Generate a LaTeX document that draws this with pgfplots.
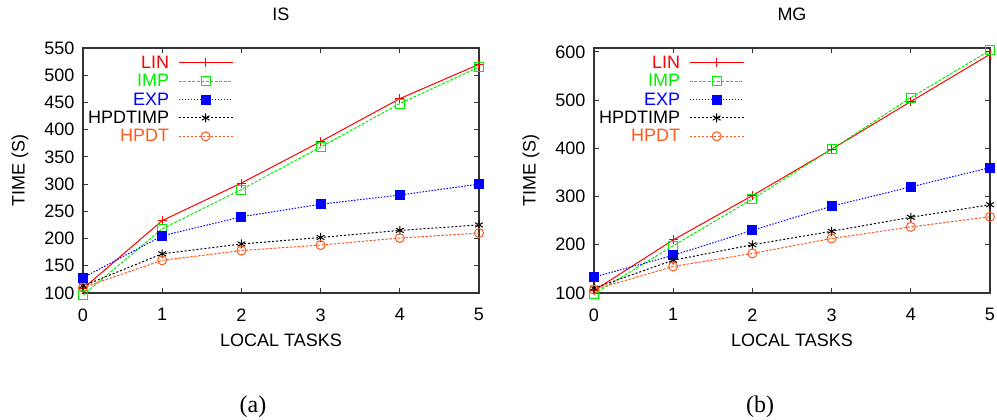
\documentclass[border=0pt]{standalone}
\usepackage{pgfplots}
\pgfplotsset{compat=1.18}
\usepackage{fontspec}
\setmainfont{Liberation Sans}
\newfontfamily\capfont{Liberation Serif}
\definecolor{gpred}{RGB}{255,0,0}
\definecolor{gpgreen}{RGB}{0,240,0}
\definecolor{gpblue}{RGB}{0,0,255}
\definecolor{gporange}{RGB}{255,90,30}
\newcommand{\fs}{\fontsize{18}{18}\selectfont}
% legend image: line of 54pt with one mark in its middle
\newcommand{\gpleg}[3]{\draw[#1, line width=1pt, #2] (0pt,0pt) -- (54pt,0pt);
  \draw[#1, line width=1pt, solid] plot[#3, mark size=4.5pt] coordinates {(27pt,0pt)};}
\pgfplotsset{
  gp/.style={
    scale only axis, width=396pt, height=245pt,
    xmin=0, xmax=5, xtick={0,...,5},
    tick align=inside, major tick length=5pt,
    axis line style={line width=1.4pt, black!80},
    every tick/.style={black!80, line width=1pt},
    tick label style={font=\fs},
    xticklabel style={yshift=-12pt},
    yticklabel style={xshift=-5pt},
    label style={font=\fs},
    title style={font=\fs, at={(axis description cs:0.5,1.114)}, anchor=center},
    xlabel style={at={(axis description cs:0.5,-0.192)}, anchor=center},
    ylabel style={at={(axis description cs:-0.159,0.5)}, anchor=center},
    xlabel={LOCAL TASKS}, ylabel={TIME (S)},
    /pgf/number format/assume math mode=true,
    clip=false,
    legend plot pos=right, legend cell align=right,
    legend style={draw=none, fill=none, font=\fs,
      at={(axis description cs:0.0,0.985)}, anchor=north west,
      row sep=0.5pt, column sep=7pt},
  },
  sLIN/.style={gpred, line width=1pt, solid, mark=+, mark size=4.5pt, mark options={solid},
    legend image code/.code={\gpleg{gpred}{solid}{mark=+}}},
  sIMP/.style={gpgreen, line width=1pt, dash pattern=on 3pt off 1.5pt, mark=square, mark size=4.5pt, mark options={solid},
    legend image code/.code={\gpleg{gpgreen}{dash pattern=on 3pt off 1.5pt}{mark=square}}},
  sEXP/.style={gpblue, line width=1pt, dash pattern=on 1.5pt off 1.5pt, mark=square*, mark size=4.5pt, mark options={solid},
    legend image code/.code={\gpleg{gpblue}{dash pattern=on 1.5pt off 1.5pt}{mark=square*}}},
  sHT/.style={black, line width=1pt, dash pattern=on 2pt off 2pt, mark=asterisk, mark size=4.5pt, mark options={solid},
    legend image code/.code={\gpleg{black}{dash pattern=on 2pt off 2pt}{mark=asterisk}}},
  sHP/.style={gporange, line width=1pt, dash pattern=on 2.5pt off 1.5pt, mark=o, mark size=4.5pt, mark options={solid},
    legend image code/.code={\gpleg{gporange}{dash pattern=on 2.5pt off 1.5pt}{mark=o}}},
}
\begin{document}
\begin{tikzpicture}
\useasboundingbox (0,0) rectangle (997pt,420pt);
\begin{axis}[gp, at={(83pt,127pt)}, anchor=south west, title={IS},
  ymin=100, ymax=550, ytick={100,150,...,550}]
\addplot[sLIN] coordinates {(0,108) (1,233) (2,302) (3,378) (4,457) (5,520)};
\addlegendentry{\textcolor{gpred}{LIN}}
\addplot[sIMP] coordinates {(0,96) (1,218) (2,290) (3,368) (4,448) (5,515)};
\addlegendentry{\textcolor{gpgreen}{IMP}}
\addplot[sEXP] coordinates {(0,128) (1,205) (2,240) (3,263) (4,280) (5,300)};
\addlegendentry{\textcolor{gpblue}{EXP}}
\addplot[sHT] coordinates {(0,113) (1,172) (2,190) (3,202) (4,215) (5,225)};
\addlegendentry{\textcolor{black}{HPDTIMP}}
\addplot[sHP] coordinates {(0,110) (1,160) (2,178) (3,188) (4,201) (5,210)};
\addlegendentry{\textcolor{gporange}{HPDT}}
\end{axis}
\begin{axis}[gp, at={(594pt,127pt)}, anchor=south west, title={MG},
  ymin=100, ymax=608, ytick={100,200,...,600}]
\addplot[sLIN] coordinates {(0,105) (1,210) (2,302) (3,398) (4,497) (5,595)};
\addlegendentry{\textcolor{gpred}{LIN}}
\addplot[sIMP] coordinates {(0,98) (1,198) (2,295) (3,398) (4,505) (5,603)};
\addlegendentry{\textcolor{gpgreen}{IMP}}
\addplot[sEXP] coordinates {(0,133) (1,178) (2,230) (3,280) (4,320) (5,360)};
\addlegendentry{\textcolor{gpblue}{EXP}}
\addplot[sHT] coordinates {(0,110) (1,168) (2,200) (3,228) (4,257) (5,283)};
\addlegendentry{\textcolor{black}{HPDTIMP}}
\addplot[sHP] coordinates {(0,107) (1,155) (2,182) (3,213) (4,237) (5,258)};
\addlegendentry{\textcolor{gporange}{HPDT}}
\end{axis}
\node[font=\capfont\fontsize{24}{24}\selectfont] at (253pt,13pt) {(a)};
\node[font=\capfont\fontsize{24}{24}\selectfont] at (760pt,13pt) {(b)};
\end{tikzpicture}
\end{document}
